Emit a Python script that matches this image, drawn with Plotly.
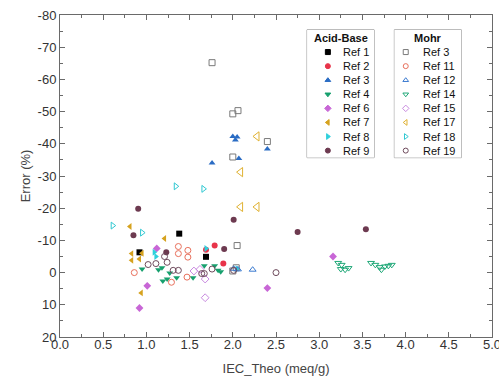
import plotly.graph_objects as go

# ---------------- data ----------------
ab_names = ["Ref 1", "Ref 2", "Ref 3", "Ref 4", "Ref 6", "Ref 7", "Ref 8", "Ref 9"]
ab_colors = ["#000000", "#e8344a", "#2a6cc4", "#17a06e", "#c866d6", "#d6a21e", "#2fd0dc", "#6d3a50"]
ab_symbols = ["square", "circle", "triangle-up", "triangle-down", "diamond",
              "triangle-left", "triangle-right", "circle"]

ref1_x = [1.38, 0.92, 1.69]
ref1_y = [-12.1, -6.3, -4.9]
ref2_x = [1.69, 1.79, 1.89]
ref2_y = [-7.1, -8.4, -2.8]
ref3_x = [2.00, 2.03, 2.05, 2.40, 2.07, 1.76]
ref3_y = [-42.3, -41.2, -42.1, -38.4, -35.4, -34.0]
ref4_x = [0.95, 1.14, 1.18, 1.19, 1.24, 1.27, 1.35, 1.54, 1.67, 1.79, 1.83, 1.86]
ref4_y = [-1.1, -0.9, -1.5, 2.6, 2.0, 0.1, 1.6, 1.6, -2.1, -2.1, -0.7, -0.3]
ref6_x = [0.92, 1.01, 1.12, 2.40, 3.16]
ref6_y = [11.0, 4.1, -7.5, 4.8, -5.0]
ref7_x = [0.81, 1.21, 0.83, 0.95, 0.83, 0.92, 0.94]
ref7_y = [-14.3, -10.6, -5.9, -6.0, -3.8, -4.2, 6.3]
ref8_x = [1.09, 1.11, 1.69, 2.05]
ref8_y = [-6.3, -5.0, -7.5, -1.2]
ref9_x = [0.905, 0.85, 2.01, 1.90, 1.23, 2.75, 3.54]
ref9_y = [-19.8, -11.6, -16.4, -7.3, -6.3, -12.6, -13.5]

mo_names = ["Ref 3", "Ref 11", "Ref 12", "Ref 14", "Ref 15", "Ref 17", "Ref 18", "Ref 19"]
mo_colors = ["#7a7a7a", "#e8705c", "#3a7ad0", "#1fa878", "#c98ae0", "#e0b232", "#30c8d2", "#6e4a5c"]
mo_symbols = ["square-open", "circle-open", "triangle-up-open", "triangle-down-open", "diamond-open",
              "triangle-left-open", "triangle-right-open", "circle-open"]

ref3m_x = [1.76, 2.00, 2.06, 2.40, 2.00, 2.05, 2.00, 2.04]
ref3m_y = [-65.2, -49.3, -50.3, -40.7, -35.9, -8.4, -0.5, -1.5]
ref11_x = [1.37, 1.37, 1.48, 1.48, 0.86, 1.47, 1.29]
ref11_y = [-8.1, -5.9, -6.9, -4.8, 0.0, 1.4, 3.0]
ref12_x = [2.01, 2.06, 2.23]
ref12_y = [-1.2, -1.0, -0.9]
ref14_x = [3.22, 3.26, 3.25, 3.30, 3.34, 3.60, 3.65, 3.70, 3.72, 3.76, 3.80, 3.84]
ref14_y = [-3.0, -2.4, -1.1, -0.9, -1.4, -3.0, -2.4, -1.7, -0.9, -1.9, -2.1, -2.4]
ref15_x = [1.55, 1.62, 1.68, 1.68]
ref15_y = [-0.5, -1.0, 2.0, 7.8]
ref17_x = [2.28, 2.09, 2.09, 2.28]
ref17_y = [-42.3, -31.2, -20.4, -20.4]
ref18_x = [0.61, 0.95, 1.34, 1.66]
ref18_y = [-14.6, -12.4, -26.8, -26.0]
ref19_x = [1.02, 1.11, 1.24, 1.21, 1.31, 1.37, 1.64, 1.67, 1.76, 2.01, 2.50]
ref19_y = [-2.5, -2.8, -3.2, -5.0, -0.7, -0.7, 0.3, 0.3, -1.1, -0.7, 0.0]

ab_x = [ref1_x, ref2_x, ref3_x, ref4_x, ref6_x, ref7_x, ref8_x, ref9_x]
ab_y = [ref1_y, ref2_y, ref3_y, ref4_y, ref6_y, ref7_y, ref8_y, ref9_y]
mo_x = [ref3m_x, ref11_x, ref12_x, ref14_x, ref15_x, ref17_x, ref18_x, ref19_x]
mo_y = [ref3m_y, ref11_y, ref12_y, ref14_y, ref15_y, ref17_y, ref18_y, ref19_y]

x_ticks = [0.0, 0.5, 1.0, 1.5, 2.0, 2.5, 3.0, 3.5, 4.0, 4.5, 5.0]
y_ticks = [-80, -70, -60, -50, -40, -30, -20, -10, 0, 10, 20]

# ---------------- figure ----------------
FONT = "Liberation Sans, Arial, sans-serif"
fig = go.Figure()

for n, c, s, xs, ys in zip(ab_names, ab_colors, ab_symbols, ab_x, ab_y):
    fig.add_trace(go.Scatter(x=xs, y=ys, mode="markers", name=n, showlegend=False,
                             marker=dict(symbol=s, color=c, size=6, line=dict(width=0))))
for n, c, s, xs, ys in zip(mo_names, mo_colors, mo_symbols, mo_x, mo_y):
    sz = 8 if n == "Ref 17" else 6
    fig.add_trace(go.Scatter(x=xs, y=ys, mode="markers", name=n, showlegend=False,
                             marker=dict(symbol=s, color=c, size=sz, line=dict(width=1, color=c))))

# ---------------- manual boxed legends ----------------
boxes = [
    ("Acid-Base", ab_names, ab_colors, ab_symbols, "x2", "y2", [0.572, 0.727], 0.31, 0.50),
    ("Mohr", mo_names, mo_colors, mo_symbols, "x3", "y3", [0.774, 0.929], 0.17, 0.40),
]
ydom = [0.557, 0.954]
for title, names, colors, symbols, xa, ya, xdom, mx, tx in boxes:
    idx = list(range(len(names)))
    fig.add_trace(go.Scatter(x=[mx] * len(idx), y=idx, mode="markers", showlegend=False,
                             xaxis=xa, yaxis=ya, hoverinfo="skip",
                             marker=dict(symbol=symbols, color=colors, size=5,
                                         line=dict(width=1, color=colors))))
    fig.add_shape(type="rect", xref="paper", yref="paper", x0=xdom[0], x1=xdom[1],
                  y0=ydom[0], y1=ydom[1], line=dict(color="#8a8a8a", width=1),
                  fillcolor="white", layer="below")
    fig.add_annotation(x=0.5, y=-1, xref=xa, yref=ya, text="<b>" + title + "</b>",
                       showarrow=False, xanchor="center", yanchor="middle",
                       font=dict(family=FONT, size=11, color="#111"))
    for i, n in zip(idx, names):
        fig.add_annotation(x=tx, y=i, xref=xa, yref=ya, text=n, showarrow=False,
                           xanchor="left", yanchor="middle",
                           font=dict(family=FONT, size=11, color="#111"))

axis_common = dict(showline=True, linecolor="#6a6a6a", linewidth=1, mirror="allticks",
                   ticks="inside", ticklen=5, tickcolor="#6a6a6a", showgrid=False, zeroline=False,
                   automargin=False, ticklabeloverflow="allow",
                   tickfont=dict(family=FONT, size=13, color="#333"))

fig.update_layout(
    width=499, height=376,
    margin=dict(l=60, r=7, t=15, b=39, autoexpand=False),
    paper_bgcolor="white", plot_bgcolor="white",
    font=dict(family=FONT, size=13, color="#444"),
    showlegend=False,
    xaxis=dict(range=[0, 5], tickvals=x_ticks, ticktext=["%.1f" % v for v in x_ticks],
               minor=dict(dtick=0.25, ticks="inside", ticklen=3, tickcolor="#6a6a6a"),
               ticklabelstandoff=-5,
               title=dict(text="IEC_Theo (meq/g)", standoff=13,
                          font=dict(family=FONT, size=13, color="#444")),
               **axis_common),
    yaxis=dict(range=[20, -80], tickvals=y_ticks, ticktext=[str(v) for v in y_ticks],
               minor=dict(dtick=5, ticks="inside", ticklen=3, tickcolor="#6a6a6a"),
               title=dict(text="Error (%)", standoff=4,
                          font=dict(family=FONT, size=13, color="#444")),
               **axis_common),
    xaxis2=dict(domain=boxes[0][6], range=[0, 1], anchor="y2", visible=False, fixedrange=True),
    yaxis2=dict(domain=ydom, range=[7.5, -1.58], anchor="x2", visible=False, fixedrange=True),
    xaxis3=dict(domain=boxes[1][6], range=[0, 1], anchor="y3", visible=False, fixedrange=True),
    yaxis3=dict(domain=ydom, range=[7.5, -1.58], anchor="x3", visible=False, fixedrange=True),
)

# remove the default page margin so the 499x376 figure fills the window exactly
fig.write_html("out.html", config={"displayModeBar": False},
               post_script="document.body.style.margin='0';document.body.style.overflow='hidden';")
